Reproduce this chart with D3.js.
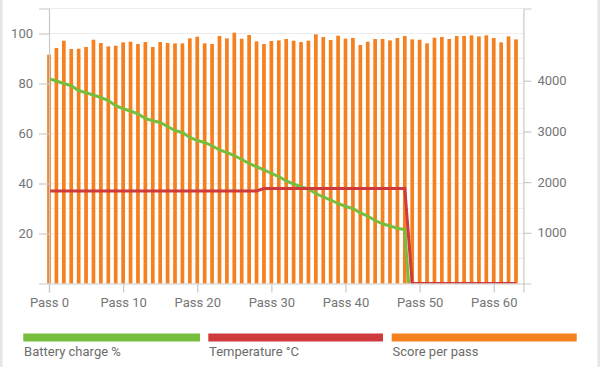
<!DOCTYPE html>
<html>
<head>
<meta charset="utf-8">
<script src="https://cdn.jsdelivr.net/npm/d3@7"></script>
<style>
  html, body { margin: 0; padding: 0; background: #fff; }
  svg { display: block; font-family: Roboto, "Noto Sans", sans-serif; }
</style>
</head>
<body>
<svg id="chart" width="600" height="367"></svg>
<script>
// ---- data ----
const passes = [0,1,2,3,4,5,6,7,8,9,10,11,12,13,14,15,16,17,18,19,20,21,22,23,24,25,26,27,28,29,30,31,
  32,33,34,35,36,37,38,39,40,41,42,43,44,45,46,47,48,49,50,51,52,53,54,55,56,57,58,59,60,61,62,63];
const scorePerPass = [4513,4645,4790,4626,4632,4665,4809,4744,4678,4691,4757,4770,4724,4763,4665,4763,
  4744,4737,4737,4836,4869,4737,4724,4882,4836,4948,4829,4902,4776,4724,4783,4796,4823,
  4790,4763,4790,4915,4863,4803,4889,4829,4843,4705,4770,4823,4823,4796,4843,4882,4816,
  4809,4737,4849,4863,4823,4882,4882,4895,4875,4895,4843,4757,4875,4816];
const batteryCharge = [81.9,81.0,80.0,79.1,77.2,76.3,75.4,74.4,73.2,71.1,69.9,69.0,67.9,66.0,65.1,64.4,
  62.8,61.2,60.4,58.4,57.2,56.4,55.1,53.4,52.4,51.2,49.6,48.0,46.7,45.5,44.0,42.8,41.0,39.8,38.6,37.8,
  36.0,34.6,33.4,32.0,30.8,30.0,28.2,27.0,25.2,23.9,23.0,22.1,21.5,-20];
const temperature = [37,37,37,37,37,37,37,37,37,37,37,37,37,37,37,37,37,37,37,37,37,37,37,37,37,37,37,37,37,
  38,38,38,38,38,38,38,38,38,38,38,38,38,38,38,38,38,38,38,38,
  0,0,0,0,0,0,0,0,0,0,0,0,0,0,0];
const xTickValues = [0,10,20,30,40,50,60];
const leftTickValues = [20,40,60,80,100];
const rightTickValues = [1000,2000,3000,4000];
const leftGridValues = [10,20,30,40,50,60,70,80,90,100,110];
const seriesNames = ["Battery charge %", "Temperature °C", "Score per pass"];

// ---- layout / style ----
const colors = { battery: "#76be3c", temp: "#cf3a3d", score: "#f5801f" };
const plot = { left: 49, right: 523.4, top: 8.5, bottom: 283.5 };
const axisColor = "#c9c9c9", gridColor = "#ededed", textColor = "#757575";

const svg = d3.select("#chart");

// card edges
svg.append("rect").attr("x", 0).attr("y", 0).attr("width", 2.5).attr("height", 367).attr("fill", "#e6e6e6");
svg.append("rect").attr("x", 597.5).attr("y", 0).attr("width", 2.5).attr("height", 367).attr("fill", "#e6e6e6");

const x = d3.scaleLinear().domain([0, 64]).range([plot.left, plot.right]);
const yL = d3.scaleLinear().domain([0, 110]).range([plot.bottom, plot.top]);
const yR = d3.scaleLinear().domain([0, 5425]).range([plot.bottom, plot.top]);

svg.append("defs").append("clipPath").attr("id", "clip")
  .append("rect").attr("x", plot.left - 4).attr("y", plot.top - 4)
  .attr("width", plot.right - plot.left + 8).attr("height", plot.bottom - plot.top + 4);

// grid
svg.append("g").selectAll("line").data(leftGridValues).join("line")
  .attr("x1", plot.left).attr("x2", plot.right)
  .attr("y1", d => yL(d)).attr("y2", d => yL(d))
  .attr("stroke", gridColor).attr("stroke-width", 1.2);

// bars
const barW = 3.7;
svg.append("g").selectAll("rect").data(passes).join("rect")
  .attr("x", d => x(d) - barW / 2)
  .attr("width", barW)
  .attr("y", (d, i) => yR(scorePerPass[i]))
  .attr("height", (d, i) => plot.bottom - yR(scorePerPass[i]))
  .attr("fill", colors.score);

// lines
const g = svg.append("g").attr("clip-path", "url(#clip)");
const lineL = d3.line().x((d, i) => x(passes[i])).y(d => yL(d));
g.append("path").datum(batteryCharge).attr("d", lineL)
  .attr("fill", "none").attr("stroke", colors.battery).attr("stroke-width", 3);
g.append("path").datum(temperature).attr("d", lineL)
  .attr("fill", "none").attr("stroke", colors.temp).attr("stroke-width", 3);

// axes
function styleAxis(sel) {
  sel.selectAll("path.domain").attr("stroke", axisColor).attr("stroke-width", 1.2);
  sel.selectAll(".tick line").attr("stroke", axisColor).attr("stroke-width", 1.2);
  sel.selectAll(".tick text").attr("fill", textColor).attr("font-size", 13)
    .attr("font-family", "Roboto, 'Noto Sans', sans-serif");
}
svg.append("g").attr("transform", `translate(0,${plot.bottom})`)
  .call(d3.axisBottom(x).tickValues(xTickValues).tickFormat(d => "Pass " + d)
    .tickSize(9).tickSizeOuter(9).tickPadding(5))
  .call(styleAxis);
svg.append("g").attr("transform", `translate(${plot.left},0)`)
  .call(d3.axisLeft(yL).tickValues(leftTickValues).tickFormat(d3.format("d"))
    .tickSize(10).tickSizeOuter(10).tickPadding(6))
  .call(styleAxis);
svg.append("g").attr("transform", `translate(${plot.right},0)`)
  .call(d3.axisRight(yR).tickValues(rightTickValues).tickFormat(d3.format("d"))
    .tickSize(8).tickSizeOuter(8).tickPadding(6))
  .call(styleAxis);

// legend
const legendX = [23.3, 208.3, 391.7];
const legendW = [176.7, 174.7, 185];
const legendColors = [colors.battery, colors.temp, colors.score];
const lg = svg.append("g").selectAll("g").data(seriesNames).join("g");
lg.append("rect").attr("x", (d, i) => legendX[i]).attr("y", 333.5)
  .attr("width", (d, i) => legendW[i]).attr("height", 8)
  .attr("fill", (d, i) => legendColors[i]);
lg.append("text").attr("x", (d, i) => legendX[i] + 0.8).attr("y", 355.5)
  .attr("font-size", 13).attr("fill", "#6b6b6b").text(d => d);
</script>
</body>
</html>
